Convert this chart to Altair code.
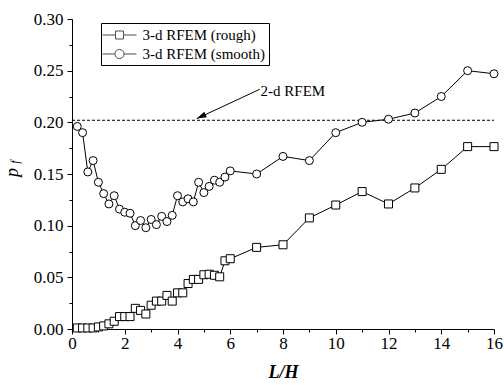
import altair as alt
import pandas as pd

# ---------------- data ----------------
L_H = [0.2, 0.4, 0.6, 0.8, 1.0, 1.2, 1.4, 1.6, 1.8, 2.0,
       2.2, 2.4, 2.6, 2.8, 3.0, 3.2, 3.4, 3.6, 3.8, 4.0,
       4.2, 4.4, 4.6, 4.8, 5.0, 5.2, 5.4, 5.6, 5.8, 6.0,
       7, 8, 9, 10, 11, 12, 13, 14, 15, 16]

p_rough = [0.001, 0.001, 0.001, 0.001, 0.002, 0.003, 0.005, 0.0075, 0.012, 0.012,
           0.012, 0.020, 0.018, 0.0145, 0.023, 0.027, 0.027, 0.0325, 0.027, 0.035,
           0.035, 0.044, 0.048, 0.048, 0.0525, 0.053, 0.052, 0.0505, 0.066, 0.068,
           0.079, 0.0815, 0.1075, 0.120, 0.133, 0.121, 0.1365, 0.1545, 0.1765, 0.1765]

p_smooth = [0.196, 0.190, 0.152, 0.163, 0.142, 0.131, 0.121, 0.129, 0.116, 0.113,
            0.112, 0.100, 0.105, 0.098, 0.106, 0.101, 0.109, 0.104, 0.110, 0.129,
            0.123, 0.126, 0.123, 0.142, 0.132, 0.138, 0.144, 0.142, 0.147, 0.153,
            0.150, 0.167, 0.163, 0.190, 0.200, 0.203, 0.209, 0.225, 0.250, 0.247]

series_names = ["3-d RFEM (rough)", "3-d RFEM (smooth)"]

ref_2d_value = 0.202
ref_2d_label = "2-d RFEM"
ref_x_range = [0, 16]

arrow_start = [7.12, 0.232]
arrow_tip = [4.73, 0.2036]
label_pos = [7.15, 0.2305]

x_ticks = [0, 2, 4, 6, 8, 10, 12, 14, 16]
x_minor = [1, 3, 5, 7, 9, 11, 13, 15]
y_ticks = [0.0, 0.05, 0.10, 0.15, 0.20, 0.25, 0.30]
y_minor = [0.025, 0.075, 0.125, 0.175, 0.225, 0.275]

# ---------------- tables ----------------
df = pd.DataFrame({
    "x": L_H + L_H,
    "p": p_rough + p_smooth,
    "series": [series_names[0]] * len(L_H) + [series_names[1]] * len(L_H),
})
ref_df = pd.DataFrame({"x0": [ref_x_range[0]], "x1": [ref_x_range[1]], "y": [ref_2d_value]})
arrow_df = pd.DataFrame({"x0": [arrow_start[0]], "y0": [arrow_start[1]],
                         "x1": [arrow_tip[0]], "y1": [arrow_tip[1]]})
tip_df = pd.DataFrame({"x": [arrow_tip[0]], "y": [arrow_tip[1]]})
label_df = pd.DataFrame({"x": [label_pos[0]], "y": [label_pos[1]], "t": [ref_2d_label]})

FONT = "Liberation Serif"
W, H = 422, 310
xscale = alt.Scale(domain=[0, 16], nice=False, zero=False)
yscale = alt.Scale(domain=[0, 0.30], nice=False)

common = dict(grid=False, domainColor="black", tickColor="black", labelColor="black",
              titleColor="black", domainWidth=1, tickWidth=1)

x_axis = alt.Axis(values=x_ticks, tickSize=5, labelFontSize=17, labelFont=FONT,
                  labelPadding=1, labelFlush=False, labelOverlap=False,
                  title="L/H", titleFont=FONT, titleFontSize=18, titleFontStyle="italic",
                  titleFontWeight="bold", titlePadding=12, orient="bottom", **common)
y_axis = alt.Axis(values=y_ticks, format=".2f", tickSize=5, labelFontSize=17, labelFont=FONT,
                  labelPadding=4, labelFlush=False, labelOverlap=False,
                  title="p", titleFont=FONT, titleFontSize=18, titleFontStyle="italic",
                  titleFontWeight="normal", titleX=-60, titleY=153, titleAngle=270,
                  titleAlign="center", titleBaseline="middle", orient="left", **common)
x_minor_axis = alt.Axis(values=x_minor, tickSize=3, labels=False, domain=False, title="",
                        orient="bottom", grid=False, tickColor="black", tickWidth=1)
y_minor_axis = alt.Axis(values=y_minor, tickSize=3, labels=False, domain=False, title="",
                        orient="left", grid=False, tickColor="black", tickWidth=1)

base = alt.Chart(df)

lines = base.mark_line(color="black", strokeWidth=1).encode(
    x=alt.X("x:Q", scale=xscale, axis=x_axis),
    y=alt.Y("p:Q", scale=yscale, axis=y_axis),
    detail="series:N",
)

rough_pts = base.transform_filter(alt.datum.series == series_names[0]).mark_point(
    shape="square", size=64, filled=True, fill="white", stroke="black", strokeWidth=1, opacity=1
).encode(x=alt.X("x:Q", axis=None), y=alt.Y("p:Q", axis=None))

smooth_pts = base.transform_filter(alt.datum.series == series_names[1]).mark_point(
    shape="circle", size=64, filled=True, fill="white", stroke="black", strokeWidth=1, opacity=1
).encode(x=alt.X("x:Q", axis=None), y=alt.Y("p:Q", axis=None))

ref_rule = alt.Chart(ref_df).mark_rule(color="black", strokeWidth=1, strokeDash=[3, 2]).encode(
    x=alt.X("x0:Q", scale=xscale, axis=x_minor_axis),
    x2="x1:Q",
    y=alt.Y("y:Q", scale=yscale, axis=y_minor_axis),
)

arrow_line = alt.Chart(arrow_df).mark_rule(color="black", strokeWidth=1).encode(
    x=alt.X("x0:Q", axis=None), x2="x1:Q",
    y=alt.Y("y0:Q", axis=None), y2="y1:Q",
)

arrow_head = alt.Chart(tip_df).mark_point(
    shape="M0,0L-1,-0.32L-1,0.32Z", size=380, filled=True, color="black", opacity=1,
    angle=155, strokeWidth=0
).encode(x=alt.X("x:Q", axis=None), y=alt.Y("y:Q", axis=None))

ref_text = alt.Chart(label_df).mark_text(
    align="left", baseline="middle", font=FONT, fontSize=15, color="black"
).encode(x=alt.X("x:Q", axis=None), y=alt.Y("y:Q", axis=None), text="t:N")

# legend symbols: line with marker; unit r = sqrt(289)/2 = 8.5 px
sq_path = "M-2,0H-0.47M0.47,0H2M-0.47,-0.47H0.47V0.47H-0.47Z"
ci_path = ("M-2,0H-0.54M0.54,0H2M-0.54,0A0.54,0.54,0,1,0,0.54,0"
           "A0.54,0.54,0,1,0,-0.54,0Z")

legend_layer = base.transform_filter("false").mark_point(
    filled=False, color="black", strokeWidth=1
).encode(
    x=alt.X("x:Q", axis=None),
    y=alt.Y("p:Q", axis=None),
    shape=alt.Shape(
        "series:N",
        scale=alt.Scale(domain=series_names, range=[sq_path, ci_path]),
        legend=alt.Legend(
            title="", orient="none", legendX=29, legendY=4,
            strokeColor="black", fillColor="white", padding=3, cornerRadius=0,
            symbolSize=289, symbolStrokeWidth=1, symbolStrokeColor="black",
            labelFont=FONT, labelFontSize=15, labelColor="black", labelOffset=14,
            rowPadding=2, symbolOffset=6.5, labelLimit=300,
        ),
    ),
)

sub_f = alt.Chart(ref_df).mark_text(
    text="f", angle=270, font=FONT, fontStyle="italic", fontSize=12, color="black",
    align="center", baseline="middle"
).encode(x=alt.value(-57), y=alt.value(143))

chart = alt.layer(
    lines, ref_rule, rough_pts, smooth_pts, arrow_line, arrow_head, ref_text, legend_layer, sub_f
).resolve_axis(x="independent", y="independent").properties(
    width=W, height=H,
    autosize=alt.AutoSizeParams(type="none"),
    padding={"left": 72, "top": 19, "right": 10, "bottom": 56},
    background="white",
).configure_view(strokeWidth=0)

chart.save("out.html", embed_options={"renderer": "svg", "actions": False})
